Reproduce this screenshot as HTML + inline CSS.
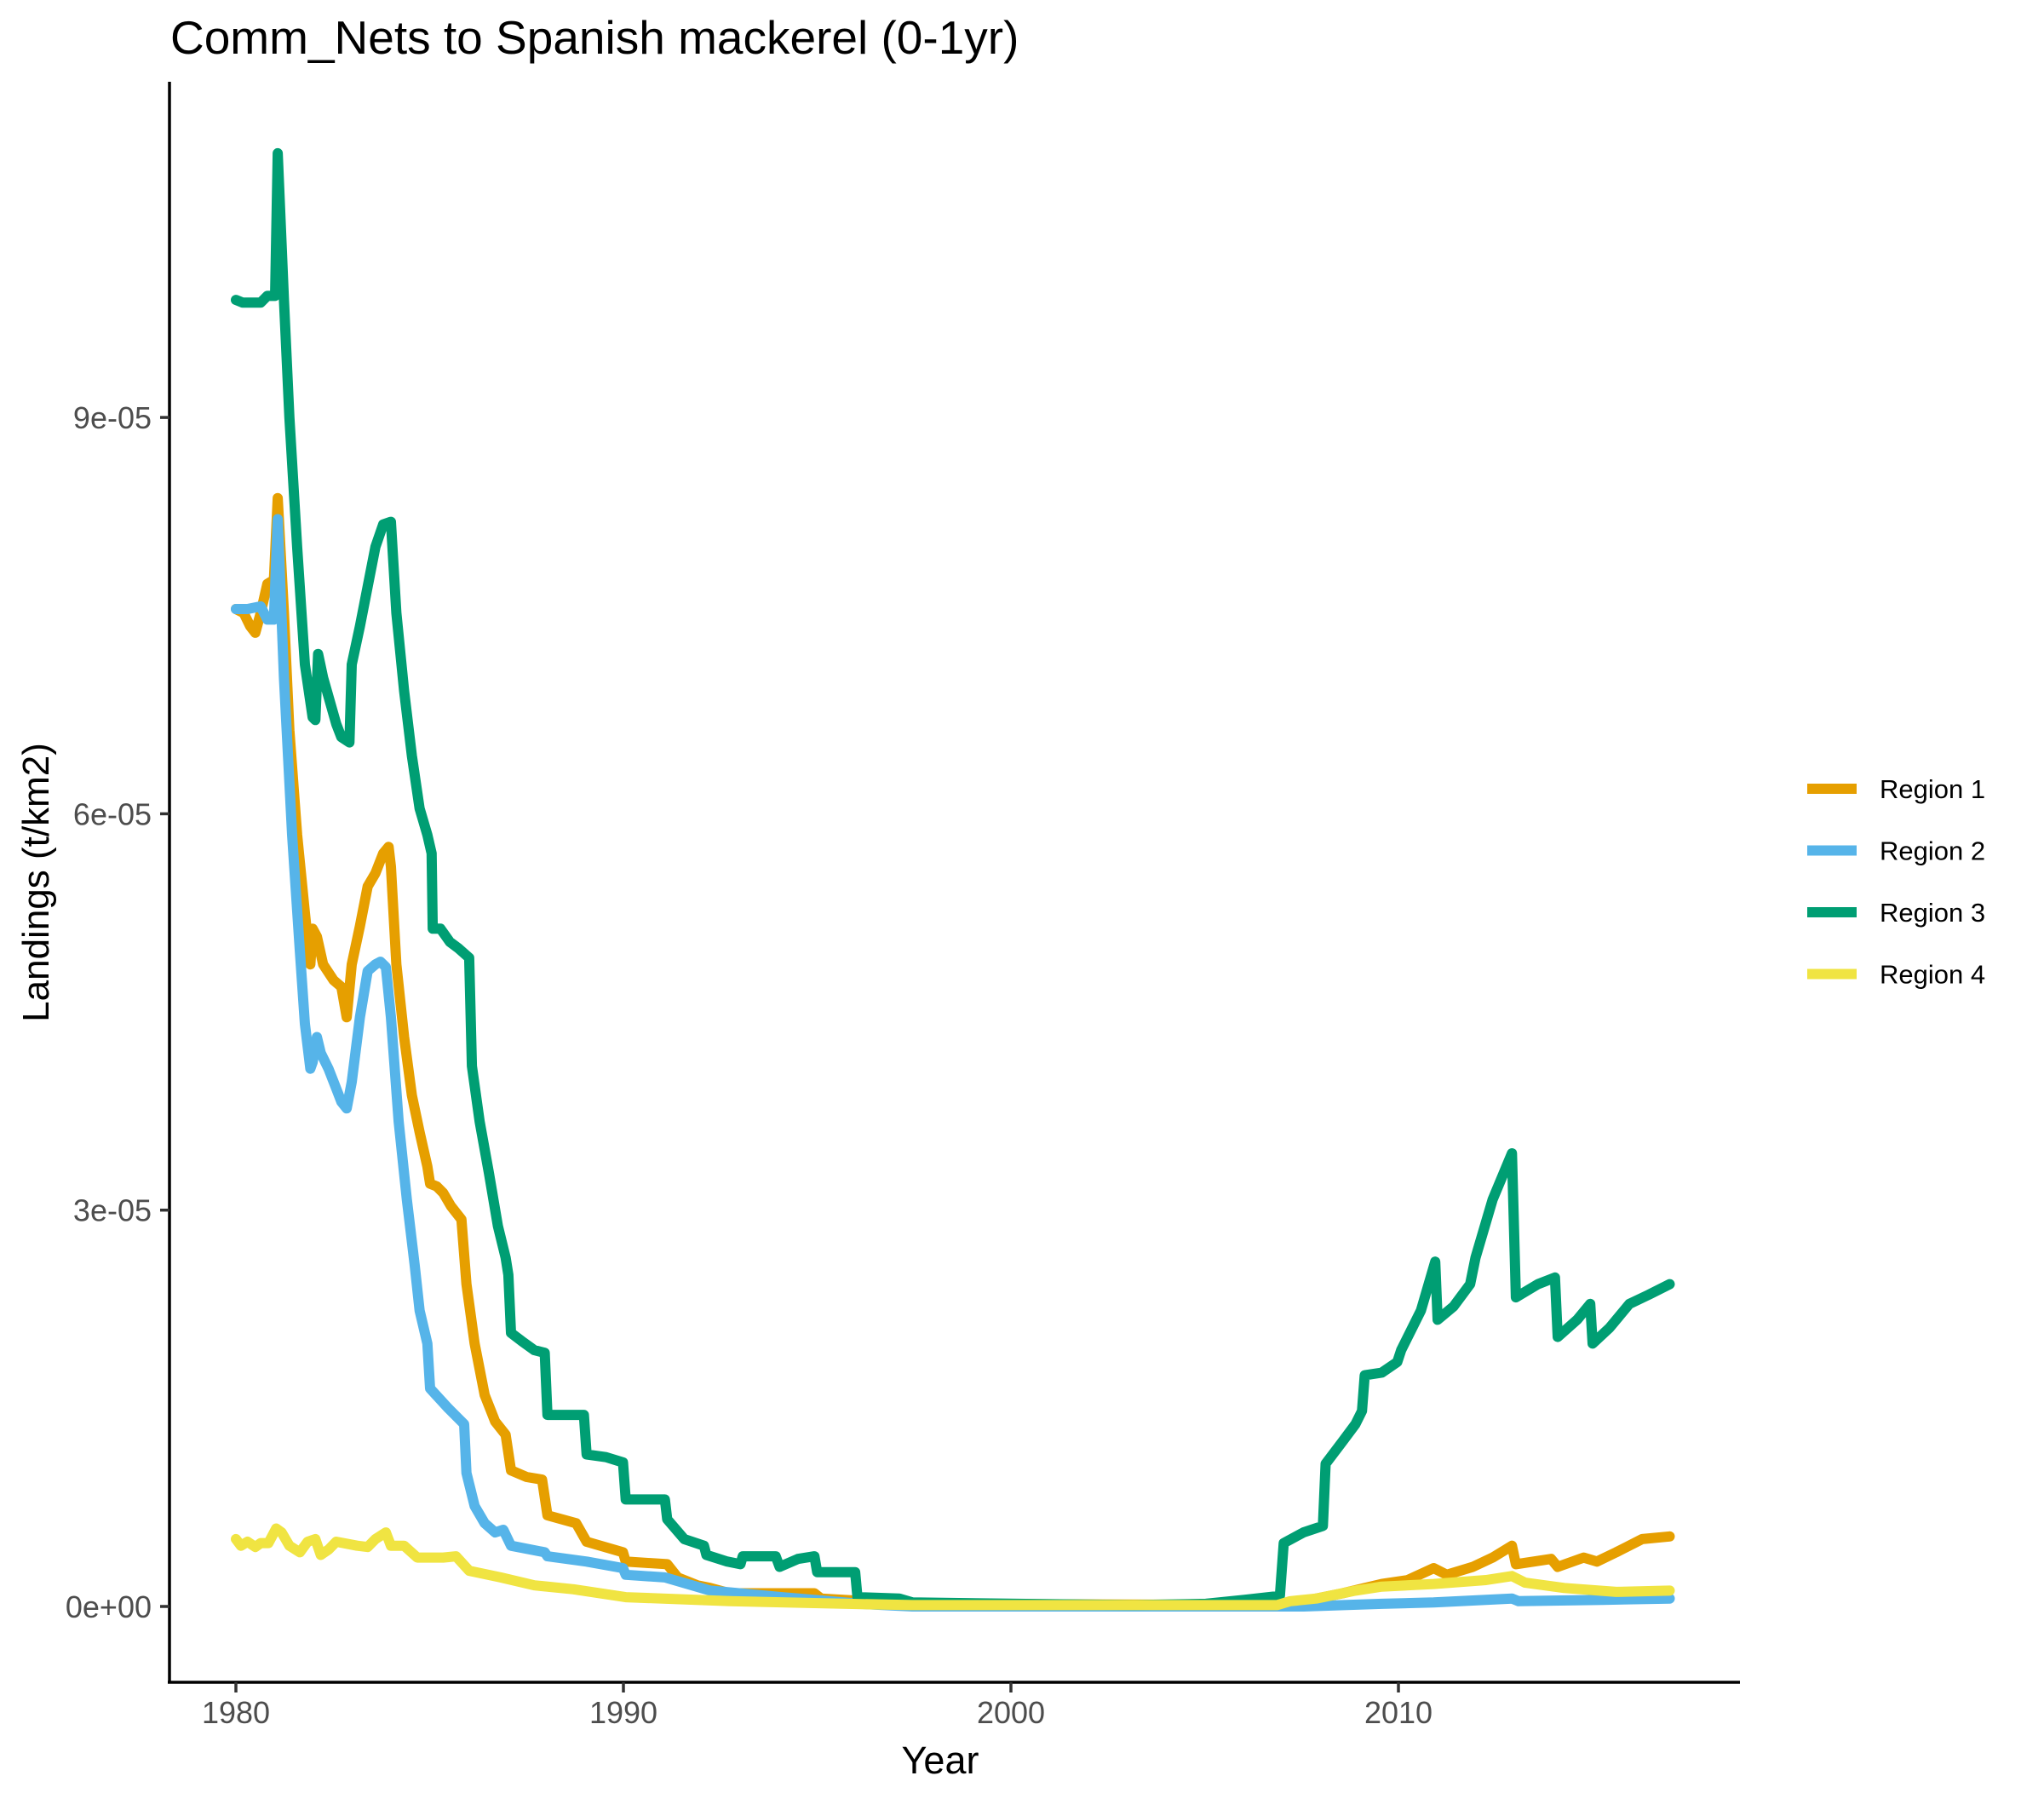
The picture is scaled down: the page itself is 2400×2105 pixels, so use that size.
<!DOCTYPE html>
<html><head><meta charset="utf-8"><style>
body{margin:0;background:#fff;}
svg text{font-family:"Liberation Sans",Arial,sans-serif;}
</style></head><body>
<svg id="chart" width="2400" height="2100" viewBox="0 0 2400 2100" xmlns="http://www.w3.org/2000/svg">
<text x="200" y="63" font-size="55" fill="#000">Comm_Nets to Spanish mackerel (0-1yr)</text>
<g id="plot"></g>
<line x1="199" y1="96" x2="199" y2="1976" stroke="#000" stroke-width="3.5"/>
<line x1="197" y1="1975" x2="2043" y2="1975" stroke="#000" stroke-width="3.5"/>
<g id="yticks"></g>
<g id="xticks"></g>
<text x="1104" y="2082" font-size="45" text-anchor="middle" fill="#000">Year</text>
<text transform="translate(57,1036) rotate(-90)" font-size="44" text-anchor="middle" fill="#000">Landings (t/km2)</text>
<g id="legend"></g>
</svg>
<script>
const seriesNames = ["Region 1","Region 2","Region 3","Region 4"];
const seriesColors = ["#E69F00","#56B4E9","#009E73","#F0E442"];
const yTickValues = [0,3,6,9];
const yTickLabels = ["0e+00","3e-05","6e-05","9e-05"];
const xTickValues = [1980,1990,2000,2010];
const r1Years = [1980.00,1980.20,1980.37,1980.50,1980.64,1980.81,1980.98,1981.08,1981.24,1981.38,1981.58,1981.78,1981.92,1981.98,1982.09,1982.25,1982.52,1982.72,1982.86,1982.99,1983.20,1983.40,1983.60,1983.80,1983.94,1984.00,1984.14,1984.34,1984.54,1984.74,1984.94,1985.01,1985.18,1985.35,1985.55,1985.82,1985.95,1986.16,1986.42,1986.69,1986.96,1987.10,1987.50,1987.90,1988.04,1988.78,1989.05,1989.99,1990.06,1991.13,1991.40,1991.91,1992.24,1992.75,1994.93,1995.10,1997.46,2006.87,2007.55,2008.56,2009.57,2010.24,2010.91,2011.25,2011.92,2012.43,2012.93,2013.03,2013.94,2014.11,2014.78,2015.12,2015.62,2016.29,2017.00];
const r1Values = [7.55,7.52,7.42,7.37,7.52,7.74,7.77,8.39,7.52,6.63,5.84,5.25,4.86,5.13,5.07,4.86,4.74,4.69,4.46,4.86,5.15,5.45,5.55,5.70,5.75,5.60,4.86,4.31,3.87,3.59,3.33,3.20,3.18,3.13,3.03,2.93,2.44,1.99,1.60,1.40,1.30,1.03,0.98,0.96,0.69,0.63,0.49,0.41,0.34,0.32,0.22,0.16,0.14,0.10,0.10,0.06,0.02,0.01,0.04,0.10,0.17,0.20,0.29,0.24,0.30,0.37,0.46,0.32,0.36,0.30,0.37,0.34,0.41,0.51,0.53];
const r2Years = [1980.00,1980.30,1980.64,1980.81,1980.98,1981.08,1981.24,1981.45,1981.65,1981.78,1981.92,1981.98,1982.09,1982.19,1982.39,1982.59,1982.72,1982.86,1982.99,1983.20,1983.40,1983.60,1983.73,1983.87,1984.00,1984.20,1984.41,1984.61,1984.74,1984.94,1985.01,1985.48,1985.89,1985.95,1986.16,1986.42,1986.69,1986.90,1987.10,1987.97,1988.04,1989.05,1989.99,1990.06,1991.07,1992.24,1994.09,1996.11,1997.46,2007.55,2009.57,2010.91,2012.93,2013.10,2015.28,2017.00];
const r2Values = [7.55,7.55,7.57,7.47,7.47,8.23,7.03,5.84,4.96,4.41,4.07,4.12,4.31,4.19,4.07,3.92,3.82,3.77,3.97,4.46,4.81,4.86,4.88,4.84,4.46,3.67,3.08,2.59,2.24,1.99,1.65,1.50,1.38,1.01,0.76,0.63,0.56,0.58,0.46,0.41,0.38,0.34,0.29,0.24,0.22,0.12,0.07,0.02,0.00,0.00,0.02,0.03,0.06,0.04,0.05,0.06];
const r3Years = [1980.00,1980.17,1980.64,1980.81,1981.01,1981.08,1981.24,1981.38,1981.58,1981.78,1981.98,1982.05,1982.12,1982.25,1982.59,1982.72,1982.93,1982.99,1983.20,1983.40,1983.60,1983.80,1984.00,1984.14,1984.34,1984.54,1984.74,1984.94,1985.05,1985.08,1985.28,1985.52,1985.75,1986.02,1986.09,1986.29,1986.53,1986.76,1986.96,1987.03,1987.10,1987.37,1987.70,1987.97,1988.04,1988.98,1989.05,1989.55,1989.99,1990.06,1991.07,1991.13,1991.57,1992.08,1992.14,1992.68,1993.02,1993.08,1993.93,1994.03,1994.50,1994.93,1995.00,1995.98,1996.04,1997.12,1997.46,2000.15,2003.18,2005.03,2006.03,2006.94,2007.04,2007.55,2008.05,2008.12,2008.56,2008.89,2009.06,2009.13,2009.57,2009.97,2010.07,2010.58,2010.95,2011.01,2011.42,2011.85,2011.99,2012.43,2012.93,2013.03,2013.60,2014.04,2014.11,2014.61,2014.95,2015.01,2015.45,2015.96,2016.46,2017.00];
const r3Values = [9.89,9.87,9.87,9.92,9.92,11.00,9.89,9.00,8.02,7.13,6.73,6.71,7.21,7.03,6.68,6.58,6.54,7.13,7.42,7.72,8.02,8.19,8.21,7.52,6.93,6.44,6.04,5.84,5.70,5.13,5.13,5.03,4.98,4.91,4.09,3.67,3.28,2.88,2.64,2.51,2.07,2.01,1.94,1.92,1.45,1.45,1.15,1.13,1.09,0.81,0.81,0.66,0.51,0.46,0.39,0.34,0.32,0.38,0.38,0.30,0.36,0.38,0.26,0.26,0.07,0.06,0.03,0.02,0.01,0.02,0.05,0.08,0.48,0.56,0.61,1.08,1.25,1.38,1.48,1.75,1.77,1.85,1.94,2.24,2.61,2.17,2.27,2.44,2.64,3.08,3.43,2.34,2.44,2.49,2.04,2.17,2.29,1.99,2.11,2.29,2.36,2.44];
const r4Years = [1980.00,1980.13,1980.30,1980.50,1980.64,1980.84,1981.04,1981.18,1981.38,1981.65,1981.85,1982.05,1982.19,1982.39,1982.59,1983.13,1983.40,1983.60,1983.87,1984.00,1984.34,1984.68,1985.35,1985.68,1986.02,1986.83,1987.70,1988.71,1990.06,1992.75,1995.78,1997.46,2006.87,2007.21,2007.88,2008.89,2009.57,2010.91,2012.26,2012.93,2013.27,2014.28,2015.62,2017.00];
const r4Values = [0.51,0.46,0.49,0.45,0.48,0.48,0.59,0.56,0.46,0.41,0.49,0.51,0.39,0.43,0.49,0.46,0.45,0.51,0.56,0.46,0.46,0.37,0.37,0.38,0.27,0.22,0.16,0.13,0.07,0.04,0.02,0.01,0.01,0.04,0.06,0.12,0.15,0.17,0.20,0.23,0.18,0.14,0.11,0.12];

const NS="http://www.w3.org/2000/svg";
function xScale(yr){return 277+(yr-1980)*45.5;}
function yScale(v){return 1886-v*155.1;}
const plot=document.getElementById('plot');
const allYears=[r1Years,r2Years,r3Years,r4Years];
const allVals=[r1Values,r2Values,r3Values,r4Values];
for(let s=0;s<4;s++){
  const p=document.createElementNS(NS,'path');
  let d='';
  for(let i=0;i<allYears[s].length;i++){d+=(i?'L':'M')+xScale(allYears[s][i]).toFixed(1)+','+yScale(allVals[s][i]).toFixed(1);}
  p.setAttribute('d',d);
  p.setAttribute('fill','none');
  p.setAttribute('stroke',seriesColors[s]);
  p.setAttribute('stroke-width','12');
  p.setAttribute('stroke-linejoin','round');
  p.setAttribute('stroke-linecap','round');
  
  
  plot.appendChild(p);
}
const yt=document.getElementById('yticks');
yTickValues.forEach((v,i)=>{
  const y=yScale(v);
  const l=document.createElementNS(NS,'line');
  l.setAttribute('x1',188);l.setAttribute('x2',199);l.setAttribute('y1',y);l.setAttribute('y2',y);
  l.setAttribute('stroke','#333');l.setAttribute('stroke-width','3.5');
  
  
  yt.appendChild(l);
  const t=document.createElementNS(NS,'text');
  t.setAttribute('x',178);t.setAttribute('y',y+13);t.setAttribute('text-anchor','end');
  t.setAttribute('font-size','36');t.setAttribute('fill','#4d4d4d');
  t.textContent=yTickLabels[i];
  
  
  yt.appendChild(t);
});
const xt=document.getElementById('xticks');
xTickValues.forEach(v=>{
  const x=xScale(v);
  const l=document.createElementNS(NS,'line');
  l.setAttribute('x1',x);l.setAttribute('x2',x);l.setAttribute('y1',1975);l.setAttribute('y2',1987);
  l.setAttribute('stroke','#333');l.setAttribute('stroke-width','3.5');
  
  
  xt.appendChild(l);
  const t=document.createElementNS(NS,'text');
  t.setAttribute('x',x);t.setAttribute('y',2023);t.setAttribute('text-anchor','middle');
  t.setAttribute('font-size','36');t.setAttribute('fill','#4d4d4d');
  t.textContent=String(v);
  
  
  xt.appendChild(t);
});
const lg=document.getElementById('legend');
seriesNames.forEach((n,i)=>{
  const y=926+i*72.5;
  const l=document.createElementNS(NS,'line');
  l.setAttribute('x1',2122);l.setAttribute('x2',2180);l.setAttribute('y1',y);l.setAttribute('y2',y);
  l.setAttribute('stroke',seriesColors[i]);l.setAttribute('stroke-width','12');
  
  
  lg.appendChild(l);
  const t=document.createElementNS(NS,'text');
  t.setAttribute('x',2207);t.setAttribute('y',y+11);t.setAttribute('font-size','31');t.setAttribute('fill','#000');
  t.textContent=n;
  
  
  lg.appendChild(t);
});
</script>
</body></html>
